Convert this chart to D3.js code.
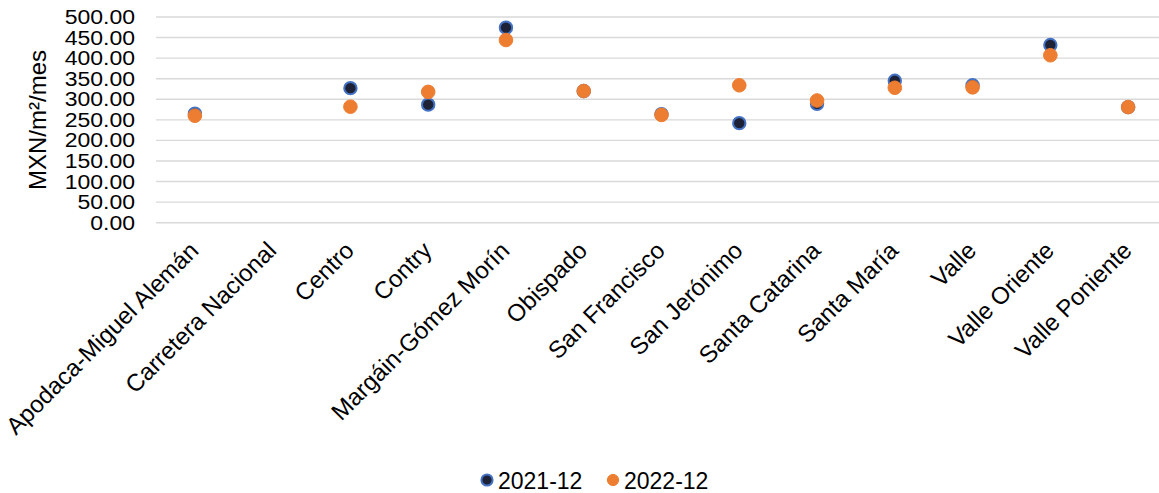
<!DOCTYPE html>
<html>
<head>
<meta charset="utf-8">
<script src="https://cdn.jsdelivr.net/npm/d3@7"></script>
<style>
  body { margin: 0; background: #fff; }
  text { font-family: "Liberation Sans", Arial, sans-serif; fill: #000; }
</style>
</head>
<body>
<svg id="chart" width="1159" height="493"></svg>
<script>
// colonias
var categories = ["Apodaca-Miguel Alemán", "Carretera Nacional", "Centro", "Contry",
    "Margáin-Gómez Morín", "Obispado", "San Francisco", "San Jerónimo",
    "Santa Catarina", "Santa María", "Valle", "Valle Oriente", "Valle Poniente"];
var seriesNames = ["2021-12", "2022-12"];
// MXN/m2/mes, null = sin dato
var values2021 = [265, null, 327, 287, 474, 320, 264, 242, 289, 345, 334, 432, 281];
var values2022 = [260, null, 282, 318, 444, 320, 262, 334, 297, 328, 329, 407, 281];
var yTicks = [0, 50, 100, 150, 200, 250, 300, 350, 400, 450, 500];

var svg = d3.select("#chart");

var x = d3.scaleBand().domain(categories).range([156, 1167]);
var y = d3.scaleLinear().domain([0, 500]).range([222.7, 17]);

// gridlines
svg.append("g").selectAll("line").data(yTicks).enter().append("line")
    .attr("x1", 156).attr("x2", 1159)
    .attr("y1", function(d){ return y(d) })
    .attr("y2", function(d){ return y(d) })
    .attr("stroke", "#d9d9d9").attr("stroke-width", 1.4);

// y axis labels
var yAxis = svg.append("g").attr("transform", "translate(156,0)")
    .call(d3.axisLeft(y).tickValues(yTicks).tickSize(0).tickPadding(21)
        .tickFormat(function(d){ return d3.format(".2f")(d) }));
yAxis.select(".domain").remove();
yAxis.selectAll("text")
    .attr("font-size", 23).attr("font-family", null)
    .attr("transform", "scale(1,0.88)");

svg.append("text")
    .attr("transform", "translate(46,120) rotate(-90)")
    .attr("text-anchor", "middle")
    .attr("font-size", 24)
    .text("MXN/m²/mes");

// x labels, rotated
svg.append("g").selectAll("text").data(categories).enter().append("text")
    .attr("transform", function(d){ return "translate(" + (x(d) + x.bandwidth() / 2 + 5) + ",252) rotate(-45)" })
    .attr("text-anchor", "end")
    .attr("font-size", 24)
    .text(function(d){ return d });

// points
var series = [
    {name: seriesNames[0], values: values2021, fill: "#1d2236", stroke: "#4472c4", r: 6.2, sw: 2},
    {name: seriesNames[1], values: values2022, fill: "#ed7d31", stroke: "#ed7d31", r: 6.8, sw: 1}
];
series.forEach(function(s){
    var pts = categories.map(function(c, i){ return {cat: c, v: s.values[i]} })
        .filter(function(p){ return p.v != null });
    svg.append("g").selectAll("circle").data(pts).enter().append("circle")
        .attr("cx", function(p){ return x(p.cat) + x.bandwidth() / 2 })
        .attr("cy", function(p){ return y(p.v) })
        .attr("r", s.r)
        .attr("fill", s.fill)
        .attr("stroke", s.stroke)
        .attr("stroke-width", s.sw);
});

// legend
var legendX = [487, 613];
var legend = svg.append("g").selectAll("g").data(series).enter().append("g")
    .attr("transform", function(d, i){ return "translate(" + legendX[i] + ",480)" });
legend.append("circle")
    .attr("r", 5.6)
    .attr("fill", function(d){ return d.fill })
    .attr("stroke", function(d){ return d.stroke })
    .attr("stroke-width", function(d){ return d.sw });
legend.append("text")
    .attr("x", 11).attr("y", 8.5)
    .attr("font-size", 23)
    .text(function(d){ return d.name });
</script>
</body>
</html>
